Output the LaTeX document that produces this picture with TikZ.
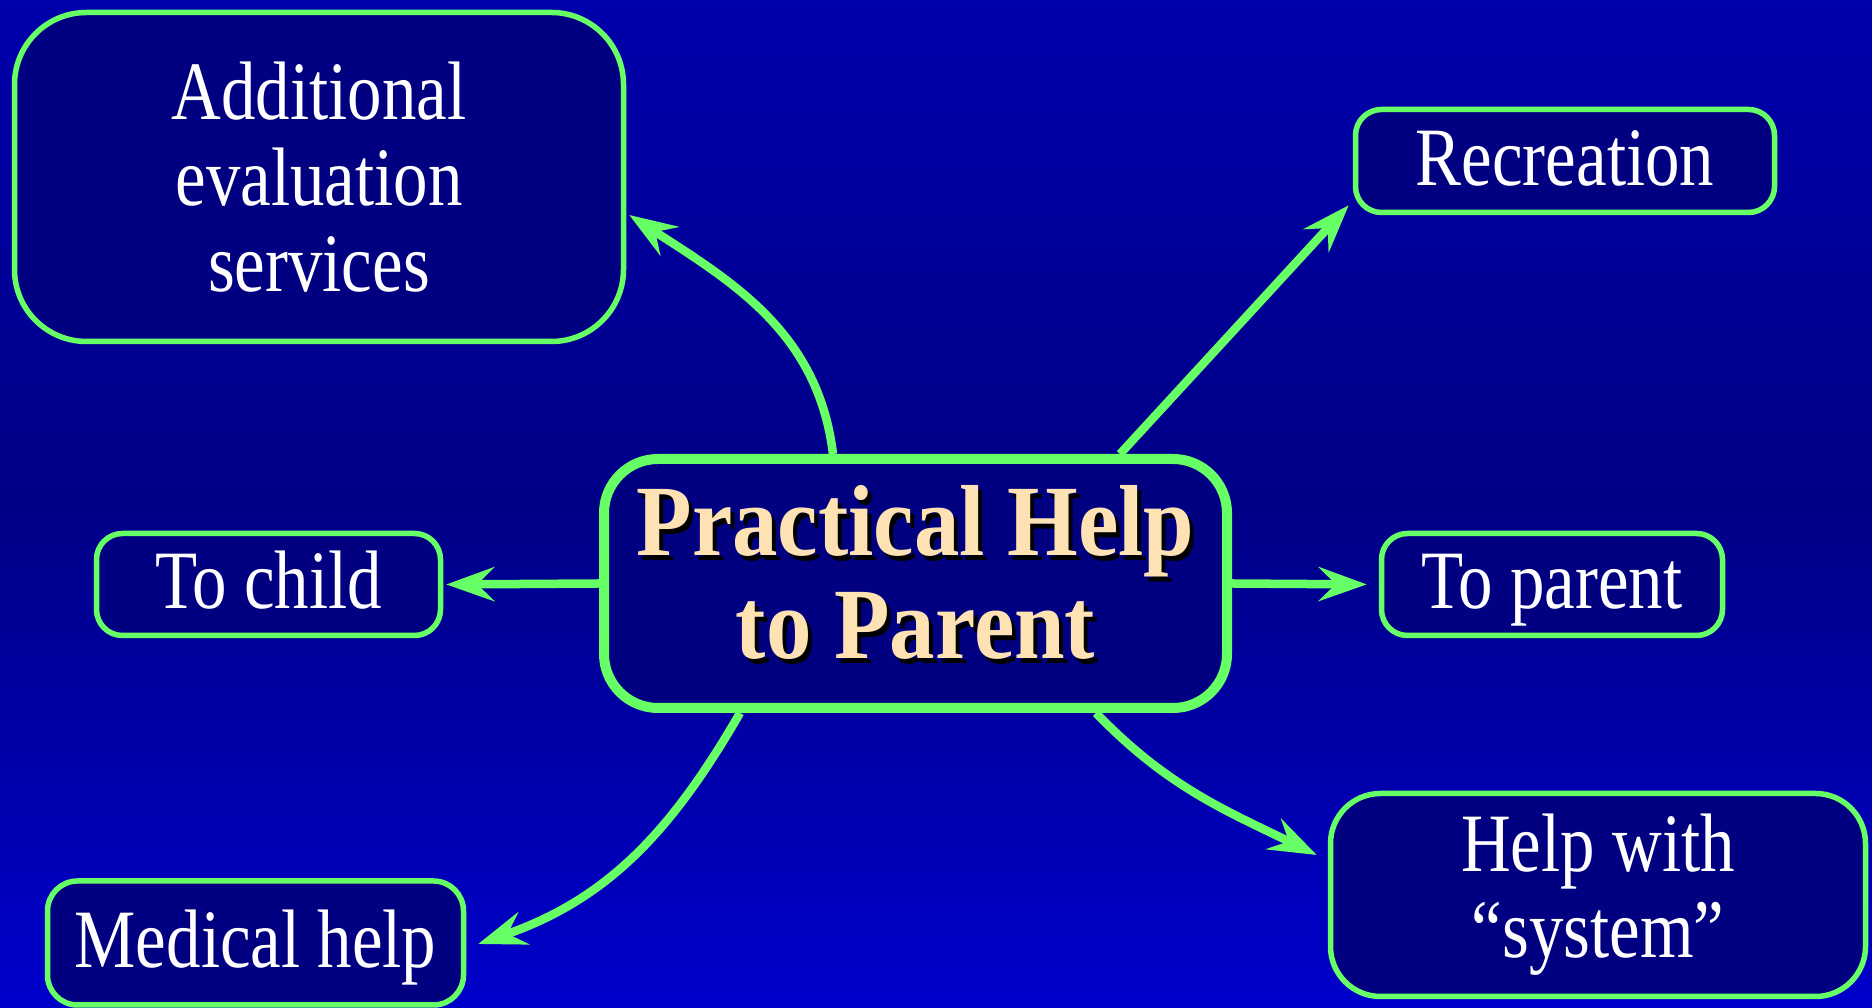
\documentclass[tikz,border=0pt]{standalone}
\usepackage{fontspec}
\setmainfont{Liberation Serif}[FakeStretch=0.83]
\newfontfamily\titlefont{Liberation Serif}[FakeStretch=0.9]
\usetikzlibrary{arrows.meta}
\definecolor{bgtop}{RGB}{0,0,172}
\definecolor{bgmid}{RGB}{0,0,134}
\definecolor{bgbot}{RGB}{0,0,204}
\definecolor{boxfill}{RGB}{0,0,128}
\definecolor{lgreen}{RGB}{102,255,102}
\definecolor{peach}{RGB}{255,226,180}
\newcommand\shadtxt[1]{\makebox[0pt][l]{\hspace*{4pt}\raisebox{-5pt}{\color{black}#1}}#1}
\tikzset{
  satbox/.style={draw=lgreen, line width=5.5pt, fill=boxfill, text=white, inner sep=0pt,
    align=center, font=\fontsize{83}{86}\selectfont},
  oneline/.style={text height=49pt, text depth=0pt},
  centerbox/.style={draw=lgreen, line width=10pt, fill=boxfill, inner sep=0pt, rounded corners=54pt},
  titletext/.style={inner sep=0pt, align=center, font=\titlefont\bfseries\fontsize{101}{103}\selectfont},
  conn/.style={draw=lgreen, line width=8.5pt, -{Stealth[length=48pt, width=34pt, inset=17pt]}}
}
\begin{document}
\begin{tikzpicture}[x=1pt,y=1pt]
\useasboundingbox (0,0) rectangle (1872,1008);
\shade[top color=bgtop, bottom color=bgbot, middle color=bgmid] (0,0) rectangle (1872,1008);

\node[satbox, minimum width=609pt, minimum height=329pt, rounded corners=72pt] (add) at (319,831) {Additional\\evaluation\\services};
\node[satbox, oneline, minimum width=419pt, minimum height=103pt, rounded corners=26pt] (rec) at (1565,847) {Recreation};
\node[satbox, oneline, minimum width=344pt, minimum height=102pt, rounded corners=26pt] (child) at (268.5,423.5) {To child};
\node[satbox, oneline, minimum width=341pt, minimum height=102pt, rounded corners=26pt] (parent) at (1552,423.5) {To parent};
\node[satbox, oneline, minimum width=416pt, minimum height=124pt, rounded corners=30pt] (med) at (255.5,65) {Medical help};
\node[satbox, minimum width=535pt, minimum height=203pt, rounded corners=50pt] (sys) at (1598,113) {Help with\\``system''};

\node[centerbox, minimum width=623pt, minimum height=249pt] (ctr) at (915.5,424.5) {};
\node[titletext, text=peach] (ttl) at ([yshift=9pt]ctr.center) {\shadtxt{Practical Help}\\\shadtxt{to Parent}};

\draw[conn] ([xshift=-82.5pt]ctr.north) to[out=97, in=-33] ([xshift=3pt,yshift=-38pt]add.east);
\draw[conn] ([xshift=204.5pt]ctr.north) -- ([xshift=-4pt,yshift=10pt]rec.south west);
\draw[conn, shorten >=3pt] (ctr.west) -- (child.east);
\draw[conn, shorten >=12pt] (ctr.east) -- (parent.west);
\draw[conn] ([xshift=-175.5pt]ctr.south) to[out=240, in=19] ([xshift=12pt,yshift=-1pt]med.east);
\draw[conn] ([xshift=180.5pt]ctr.south) to[out=-46, in=154] ([xshift=-11pt,yshift=40pt]sys.west);
\end{tikzpicture}
\end{document}
